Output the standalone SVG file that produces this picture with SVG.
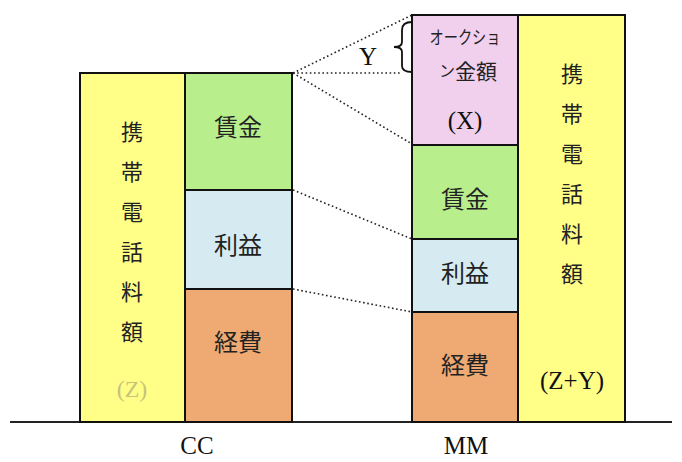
<svg xmlns="http://www.w3.org/2000/svg" width="682" height="462" viewBox="0 0 682 462">
<style>
.box{stroke:#111;stroke-width:2}
.yel{fill:#ffff88}.grn{fill:#b8ef8c}.blu{fill:#d5ebf1}.org{fill:#eeaa72}.pnk{fill:#f1d0ee}
.jp{font-family:"Noto Sans CJK JP",sans-serif;fill:#222;text-anchor:middle;dominant-baseline:central}
.lat{font-family:"Liberation Serif",serif;fill:#111;text-anchor:middle;dominant-baseline:central}
.dot{stroke:#222;stroke-width:1.6;stroke-dasharray:1.6 2.6;fill:none}
</style>
<rect width="682" height="462" fill="#fff"/>
<g id="connectors">
<line class="dot" x1="293" y1="73" x2="412" y2="15"/>
<line class="dot" x1="293" y1="73" x2="400" y2="73"/>
<line class="dot" x1="293" y1="73" x2="412" y2="144"/>
<line class="dot" x1="293" y1="190" x2="412" y2="239"/>
<line class="dot" x1="293" y1="289" x2="412" y2="312"/>
<path d="M412,22 Q402,22 402,30 L402,42 Q402,47 394,47 Q402,47 402,52 L402,66 Q402,72 412,72" fill="none" stroke="#111" stroke-width="1.8"/>
</g>
<g id="baseline"><line x1="10" y1="422" x2="672" y2="422" stroke="#222" stroke-width="2"/></g>
<g id="cc-total">
<rect class="box yel" x="80" y="73" width="105" height="349"/>
<text class="jp" font-size="22" x="132" y="130">携</text>
<text class="jp" font-size="22" x="132" y="170">帯</text>
<text class="jp" font-size="22" x="132" y="210">電</text>
<text class="jp" font-size="22" x="132" y="250">話</text>
<text class="jp" font-size="22" x="132" y="290">料</text>
<text class="jp" font-size="22" x="132" y="330">額</text>
<text class="lat" font-size="24" x="132" y="389" style="fill:#c9c27a">(Z)</text>
</g>
<g id="cc-wage"><rect class="box grn" x="185" y="73" width="107" height="117"/><text class="jp" font-size="24" x="238" y="125">賃金</text></g>
<g id="cc-profit"><rect class="box blu" x="185" y="190" width="107" height="99"/><text class="jp" font-size="24" x="238" y="243">利益</text></g>
<g id="cc-cost"><rect class="box org" x="185" y="289" width="107" height="133"/><text class="jp" font-size="24" x="238" y="340">経費</text></g>
<g id="mm-auction"><rect class="box pnk" x="412" y="15" width="106" height="130"/>
<text class="jp" font-size="18" x="465" y="36" textLength="71" lengthAdjust="spacingAndGlyphs">オークショ</text>
<text class="jp" x="439" y="70" style="text-anchor:start"><tspan font-size="16">ン</tspan><tspan font-size="21">金額</tspan></text>
<text class="lat" font-size="25" x="465" y="120">(X)</text>
</g>
<g id="mm-wage"><rect class="box grn" x="412" y="145" width="106" height="94"/><text class="jp" font-size="24" x="465" y="197">賃金</text></g>
<g id="mm-profit"><rect class="box blu" x="412" y="239" width="106" height="73"/><text class="jp" font-size="24" x="465" y="271">利益</text></g>
<g id="mm-cost"><rect class="box org" x="412" y="312" width="106" height="110"/><text class="jp" font-size="24" x="465" y="363">経費</text></g>
<g id="mm-total">
<rect class="box yel" x="518" y="15" width="107" height="407"/>
<text class="jp" font-size="22" x="572" y="72">携</text>
<text class="jp" font-size="22" x="572" y="112">帯</text>
<text class="jp" font-size="22" x="572" y="152">電</text>
<text class="jp" font-size="22" x="572" y="192">話</text>
<text class="jp" font-size="22" x="572" y="232">料</text>
<text class="jp" font-size="22" x="572" y="272">額</text>
<text class="lat" font-size="25" x="572" y="380">(Z+Y)</text>
</g>
<g id="labels">
<text class="lat" font-size="25" x="197" y="445">CC</text>
<text class="lat" font-size="25" x="466" y="445">MM</text>
<text class="lat" font-size="25" x="368" y="56">Y</text>
</g>
</svg>
